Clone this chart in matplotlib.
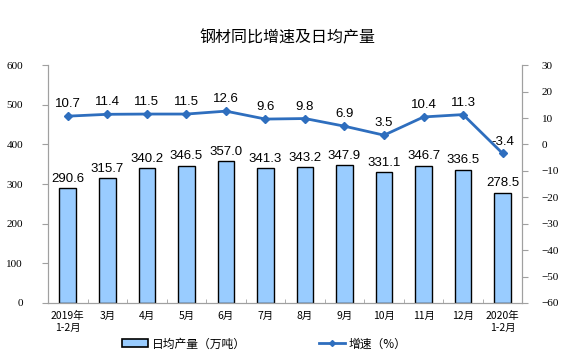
import numpy as np
import matplotlib.pyplot as plt
from matplotlib.lines import Line2D
from matplotlib.patches import Patch

plt.rcParams['font.family'] = ['Noto Sans CJK SC', 'DejaVu Sans']

months = ['2019年\n1-2月', '3月', '4月', '5月', '6月', '7月', '8月', '9月',
          '10月', '11月', '12月', '2020年\n1-2月']
output = [290.6, 315.7, 340.2, 346.5, 357.0, 341.3, 343.2, 347.9, 331.1, 346.7, 336.5, 278.5]
growth = [10.7, 11.4, 11.5, 11.5, 12.6, 9.6, 9.8, 6.9, 3.5, 10.4, 11.3, -3.4]

bar_color = '#99CCFF'
line_color = '#2E6EBE'
spine_color = '#A0A0A0'

fig = plt.figure(figsize=(5.75, 3.62), dpi=100)
ax = fig.add_axes([0.0835, 0.163, 0.825, 0.657])
ax2 = ax.twinx()

x = np.arange(len(months))
ax.bar(x, output, width=0.42, color=bar_color, edgecolor='black', linewidth=1.0, zorder=2)
for xi, v in zip(x, output):
    ax.text(xi, v + 8, f'{v:.1f}', ha='center', va='bottom', fontsize=9.5,
            family=['Liberation Sans', 'DejaVu Sans'])

ax2.plot(x, growth, color=line_color, marker='D', markersize=4, linewidth=2, zorder=3)
for xi, v in zip(x, growth):
    ax2.text(xi, v + 2.2, f'{v:.1f}', ha='center', va='bottom', fontsize=9.5,
             family=['Liberation Sans', 'DejaVu Sans'])

ax.set_xlim(-0.5, len(months) - 0.5)
ax.set_ylim(0, 600)
ax.set_yticks(range(0, 601, 100))
ax2.set_ylim(-60, 30)
ax2.set_yticks(range(-60, 31, 10))

ax.set_xticks(x)
ax.set_xticklabels(months, fontsize=7.5)
ax.set_xticks(np.arange(-0.5, len(months), 1), minor=True)
ax.tick_params(axis='x', which='major', length=0, pad=6)
ax.tick_params(axis='x', which='minor', length=3, color=spine_color, direction='in')
ax.tick_params(axis='y', length=4, color=spine_color, labelsize=8, pad=14)
ax2.tick_params(axis='y', length=4, color=spine_color, labelsize=8, pad=10)
for lab in ax.get_yticklabels() + ax2.get_yticklabels():
    lab.set_fontfamily(['Liberation Serif', 'DejaVu Serif'])

for a in (ax, ax2):
    a.spines['top'].set_visible(False)
    for s in ('left', 'right', 'bottom'):
        a.spines[s].set_color(spine_color)

fig.text(0.5, 0.895, '钢材同比增速及日均产量', ha='center', va='center', fontsize=11.5)

handles = [Patch(facecolor=bar_color, edgecolor='black', linewidth=1.2),
           Line2D([0], [0], color=line_color, marker='D', markersize=3, linewidth=2)]
fig.legend(handles, ['日均产量（万吨）', '增速（%）'], loc='center', bbox_to_anchor=(0.46, 0.05),
           ncol=2, frameon=False, fontsize=8.5, columnspacing=6.2, handlelength=2.2,
           handleheight=0.6, handletextpad=0.3)

fig.savefig('out.png', dpi=100)
